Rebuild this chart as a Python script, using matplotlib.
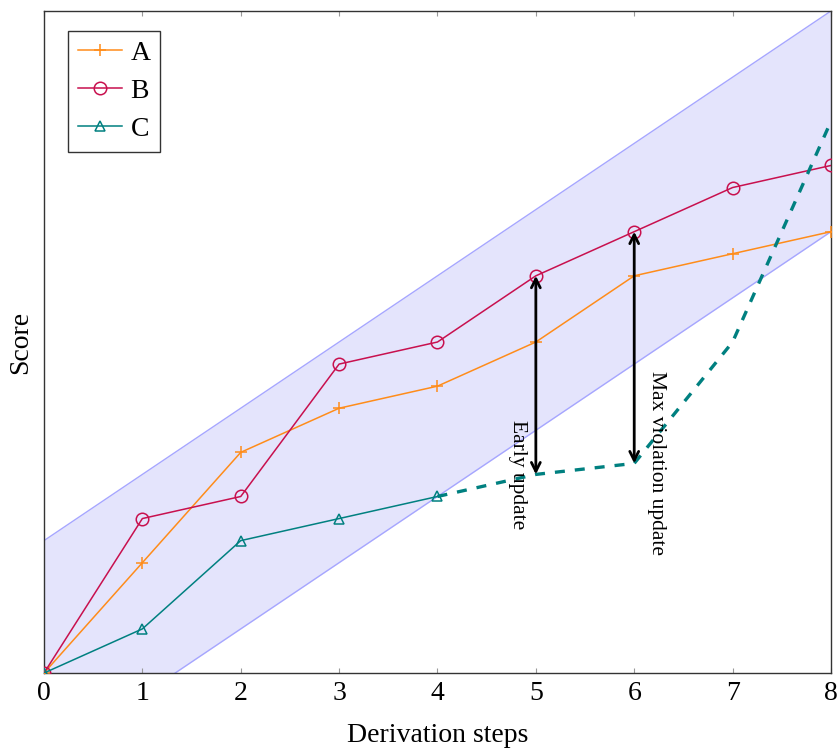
import numpy as np
import matplotlib
matplotlib.use("Agg")
import matplotlib.pyplot as plt

plt.rcParams["font.family"] = ["Liberation Serif", "DejaVu Serif"]

# data (y in arbitrary score units)
steps = [0, 1, 2, 3, 4, 5, 6, 7, 8]
score_a = [0, 5, 10, 12, 13, 15, 18, 19, 20]
score_b = [0, 7, 8, 14, 15, 18, 20, 22, 23]
steps_c = [0, 1, 2, 3, 4]
score_c = [0, 2, 6, 7, 8]
steps_c_ext = [4, 5, 6, 7, 8]
score_c_ext = [8, 9, 9.5, 15, 25]

band_x = [0, 8]
band_low = [-4, 20]
band_high = [6, 30]

# update arrows: (x, y_from, y_to)
early = (5, 9, 18)
maxviol = (6, 9.5, 20)

fig = plt.figure(figsize=(8.38, 7.53), dpi=100)
ax = fig.add_axes([0.0525, 0.1062, 0.9391, 0.8792])

ax.fill_between(band_x, band_low, band_high, color="#e4e4fc", lw=0, zorder=0)
ax.plot(band_x, band_low, color="#a6a6ff", lw=1, zorder=1)
ax.plot(band_x, band_high, color="#a6a6ff", lw=1, zorder=1)

orange = "#ff8c1a"
purple = "#c8104e"
teal = "#008080"

ax.plot(steps, score_a, color=orange, lw=1.1, marker="+", ms=9, mew=1.1, label="A", zorder=3)
ax.plot(steps, score_b, color=purple, lw=1.1, marker="o", ms=9, mfc="none", mew=1.1, label="B", zorder=3)
ax.plot(steps_c, score_c, color=teal, lw=1.1, marker="^", ms=7, mfc="none", mew=1.1, label="C", zorder=3)
ax.plot(steps_c_ext, score_c_ext, color=teal, lw=2.4, ls=(0, (3, 3)), zorder=3)

for x, y0, y1 in [early, maxviol]:
    ax.annotate("", xy=(x, y1), xytext=(x, y0),
                arrowprops=dict(arrowstyle="<->", color="black", lw=2,
                                mutation_scale=16, shrinkA=0, shrinkB=0),
                zorder=4)

ax.text(4.81, 9.0, "Early update", rotation=-90, ha="center", va="center", fontsize=15.5)
ax.text(6.23, 9.5, "Max violation update", rotation=-90, ha="center", va="center", fontsize=15.5)

ax.set_xlim(0, 8)
ax.set_ylim(0, 30)
ax.set_xticks(steps)
ax.set_yticks([])
ax.tick_params(axis="x", direction="in", length=3.5, color="#999999", top=True,
               labelsize=20, pad=6)
for s in ax.spines.values():
    s.set_color("#333333")
    s.set_linewidth(1.0)

ax.set_xlabel("Derivation steps", fontsize=20, labelpad=12)
ax.set_ylabel("Score", fontsize=20, labelpad=8)

leg = ax.legend(loc="upper left", bbox_to_anchor=(0.0305, 0.97), fontsize=20,
                fancybox=False, framealpha=1, edgecolor="#333333",
                handlelength=1.6, borderpad=0.35, labelspacing=0.45,
                handletextpad=0.3, borderaxespad=0)
leg.get_frame().set_linewidth(1.0)

fig.savefig("out.png", dpi=100)
